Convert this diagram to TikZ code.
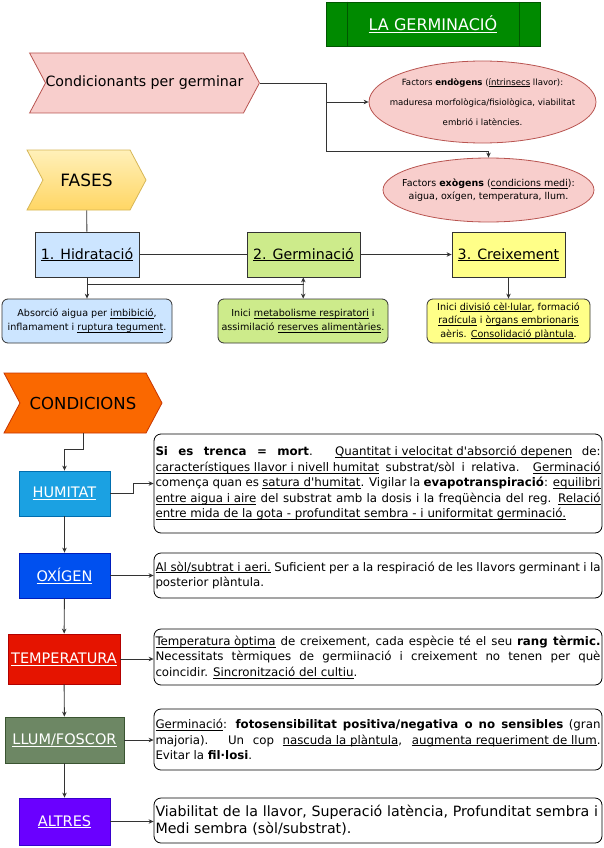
\documentclass[tikz,border=0pt]{standalone}
\usepackage{fontspec}
\setmainfont{DejaVu Sans}
\usetikzlibrary{shapes.geometric, shapes.symbols, arrows.meta, positioning, calc}
\definecolor{germInk}{RGB}{51,51,51}
\definecolor{germPink}{RGB}{248,206,204}
\definecolor{germRed}{RGB}{184,84,80}
\definecolor{germCream}{RGB}{255,240,185}
\definecolor{germYellow}{RGB}{255,214,100}
\definecolor{germGold}{RGB}{214,182,86}
\definecolor{germSky}{RGB}{204,229,255}
\definecolor{germLime}{RGB}{205,235,139}
\definecolor{germLemon}{RGB}{255,255,136}
\definecolor{germGreen}{RGB}{0,138,0}
\definecolor{germDark}{RGB}{0,87,0}
\definecolor{germOrange}{RGB}{250,104,0}
\definecolor{germRust}{RGB}{199,53,0}
\definecolor{germCyan}{RGB}{27,161,226}
\definecolor{germCyanLine}{RGB}{0,110,175}
\definecolor{germBlue}{RGB}{0,80,239}
\definecolor{germBlueLine}{RGB}{0,29,188}
\definecolor{germScarlet}{RGB}{229,20,0}
\definecolor{germScarletLine}{RGB}{178,0,0}
\definecolor{germOlive}{RGB}{109,135,100}
\definecolor{germOliveLine}{RGB}{58,84,49}
\definecolor{germViolet}{RGB}{106,0,255}
\definecolor{germVioletLine}{RGB}{55,0,204}
\newcommand{\uln}[1]{\leavevmode\setbox0=\hbox{#1}\rlap{\rule[-1.6pt]{\wd0}{0.5pt}}\box0\relax}
\newcommand{\apos}{\textquotesingle}
\hyphenpenalty=10000
\exhyphenpenalty=10000

\begin{document}
\begin{tikzpicture}[x=1pt, y=-1pt,
      chevron/.style={signal, signal to=east, signal from=west, signal pointer angle=124,
      minimum height=60pt, inner sep=0pt, line width=0.8pt},
      phase/.style={draw=germInk, line width=0.8pt, minimum height=45pt, inner sep=2pt,
      font=\fontsize{14.2}{16}\selectfont},
      note/.style={rounded corners=6pt, draw=germInk, line width=0.8pt, align=center,
      minimum height=44pt, inner sep=1pt, font=\fontsize{9.6}{14}\selectfont},
      factor/.style={ellipse, draw=germRed, fill=germPink, line width=0.8pt, inner sep=0pt},
      cond/.style={line width=0.8pt, minimum height=45pt, inner sep=1pt, text=white,
      font=\fontsize{14.5}{16}\selectfont},
      detail/.style={rounded corners=7pt, draw=black, line width=0.8pt, minimum width=448pt,
      text width=445pt, inner xsep=1.5pt, inner ysep=2pt, align=justify,
      font=\fontsize{11.8}{15.5}\selectfont},
      arrow/.style={-{Stealth[length=5pt, width=4.5pt]}, line width=0.9pt, draw=germInk},
      link/.style={line width=0.9pt, draw=germInk}
    ]
    \useasboundingbox (0,0) rectangle (603,848);

    \node[draw=germDark, fill=germGreen, line width=0.8pt, minimum width=214pt, minimum height=44pt,
      text=white, font=\fontsize{16}{18}\selectfont] (title) at (433,24) {\uln{LA GERMINACIÓ}};
    \draw[germDark, line width=0.8pt] ([xshift=22pt]title.north west) -- ([xshift=22pt]title.south west);
    \draw[germDark, line width=0.8pt] ([xshift=-21pt]title.north east) -- ([xshift=-21pt]title.south east);

    \node[chevron, draw=germRed, fill=germPink, minimum width=227pt, font=\fontsize{14.2}{17}\selectfont]
      (condicionants) at (144.5,83) {Condicionants per germinar};
    \node[factor, minimum width=227pt, minimum height=82pt] (endogens) at (482.5,102) {};
    \node[align=center, font=\fontsize{8.6}{20}\selectfont] (endotext) at (endogens)
      {Factors \textbf{endògens} (\uln{íntrinsecs} llavor):\\ maduresa morfològica/fisiològica, viabilitat\\ embrió i latències.};
    \node[factor, minimum width=211pt, minimum height=64pt] (exogens) at (488.5,190) {};
    \node[align=center, font=\fontsize{9.5}{12.5}\selectfont] (exotext) at (exogens)
      {Factors \textbf{exògens} (\uln{condicions medi}):\\ aigua, oxígen, temperatura, llum.};

    \coordinate (split) at (326,83);
    \coordinate (bend) at (326,151);
    \draw[arrow] (condicionants.east) -- (split) |- (endogens.west);
    \draw[arrow] (split) -- (bend) -| (exogens.north);

    \node[chevron, draw=germGold, top color=germCream, bottom color=germYellow, minimum width=119pt,
      font=\fontsize{17}{19}\selectfont] (fases) at (86.5,180) {FASES};
    \node[phase, fill=germSky, minimum width=104pt] (hidratacio) at (87,254.5) {\uln{1. Hidratació}};
    \node[phase, fill=germLime, minimum width=113pt] (germinacio) at (303.5,254.5) {\uln{2. Germinació}};
    \node[phase, fill=germLemon, minimum width=113pt] (creixement) at (508.5,254.5) {\uln{3. Creixement}};

    \node[note, fill=germSky, minimum width=170pt] (hidratacioNote) at (87,321)
      {Absorció aigua per \uln{imbibició},\\ inflamament i \uln{ruptura tegument}.};
    \node[note, fill=germLime, minimum width=170pt] (germinacioNote) at (303,321)
      {Inici \uln{metabolisme respiratori} i\\ assimilació \uln{reserves alimentàries}.};
    \node[note, fill=germLemon, minimum width=163pt, font=\fontsize{9.6}{13.5}\selectfont] (creixementNote) at (508.5,321)
      {Inici \uln{divisió cèl·lular}, formació\\ \uln{radícula} i \uln{òrgans embrionaris}\\ aèris. \uln{Consolidació plàntula}.};

    \coordinate (joint) at (303.5,284);
    \draw[link] (fases) -- (hidratacio);
    \draw[link] (hidratacio) -- (germinacio);
    \draw[arrow] (germinacio) -- (creixement);
    \draw[arrow] (hidratacio) -- (hidratacioNote);
    \draw[link] (hidratacio.south |- joint) -- (joint);
    \draw[arrow, {Stealth[length=5pt, width=4.5pt]}-{Stealth[length=5pt, width=4.5pt]}] (germinacio) -- (germinacioNote);
    \draw[arrow] (creixement) -- (creixementNote);

    \node[chevron, draw=germRust, fill=germOrange, minimum width=158pt, font=\fontsize{16.5}{18}\selectfont]
      (condicions) at (83,403) {CONDICIONS};

    \node[cond, draw=germCyanLine, fill=germCyan, minimum width=91pt] (humitat) at (64.5,493.5) {\uln{HUMITAT}};
    \node[cond, draw=germBlueLine, fill=germBlue, minimum width=91pt] (oxigen) at (64.5,575.5) {\uln{OXÍGEN}};
    \node[cond, draw=germScarletLine, fill=germScarlet, minimum width=112pt, minimum height=50pt]
      (temperatura) at (64,659) {\uln{TEMPERATURA}};
    \node[cond, draw=germOliveLine, fill=germOlive, minimum width=119pt, minimum height=46pt]
      (llum) at (64.5,740) {\uln{LLUM/FOSCOR}};
    \node[cond, draw=germVioletLine, fill=germViolet, minimum width=91pt, minimum height=47pt]
      (altres) at (64.5,821.5) {\uln{ALTRES}};

    \node[detail, minimum height=99pt] (txt-humitat) at (378,483.5)
      {\textbf{Si es trenca = mort}. \uln{Quantitat i velocitat d\apos absorció depenen} de:\linebreak
      \uln{característiques llavor i nivell humitat} substrat/sòl i relativa. \uln{Germinació}\linebreak
      comença quan es \uln{satura d\apos humitat}. Vigilar la \textbf{evapotranspiració}: \uln{equilibri}\linebreak
      \uln{entre aigua i aire} del substrat amb la dosis i la freqüència del reg. \uln{Relació}\linebreak
      \uln{entre mida de la gota - profunditat sembra - i uniformitat germinació.}};
    \node[detail, minimum height=45pt] (txt-oxigen) at (378,575.5)
      {\uln{Al sòl/subtrat i aeri.} Suficient per a la respiració de les llavors germinant i la\linebreak
      posterior plàntula.};
    \node[detail, minimum height=56pt] (txt-temperatura) at (378,657)
      {\uln{Temperatura òptima} de creixement, cada espècie té el seu \textbf{rang tèrmic.}\linebreak
      Necessitats tèrmiques de germiinació i creixement no tenen per què\linebreak
      coincidir. \uln{Sincronització del cultiu}.};
    \node[detail, minimum height=61pt] (txt-llum) at (378,739.5)
      {\uln{Germinació}: \textbf{fotosensibilitat positiva/negativa o no sensibles} (gran\linebreak
      majoria). Un cop \uln{nascuda la plàntula}, \uln{augmenta requeriment de llum}.\linebreak
      Evitar la \textbf{fil·losi}.};
    \node[detail, minimum height=45pt, align=left, font=\fontsize{14.2}{17}\selectfont] (txt-altres) at (378,820.5)
      {Viabilitat de la llavor, Superació latència, Profunditat sembra i\\ Medi sembra (sòl/substrat).};

    \draw[arrow] (condicions.south) -- ++(0,16) -| (humitat.north);
    \draw[arrow] (humitat.east) -- ++(23,0) |- (txt-humitat.west);
    \foreach \c in {oxigen, temperatura, llum, altres} {
      \draw[arrow] (\c.east) -- (\c.east -| txt-\c.west);
    }
    \foreach \a/\b in {humitat/oxigen, oxigen/temperatura, temperatura/llum, llum/altres} {
      \draw[arrow] (\a) -- (\b);
    }
  \end{tikzpicture}
\end{document}
